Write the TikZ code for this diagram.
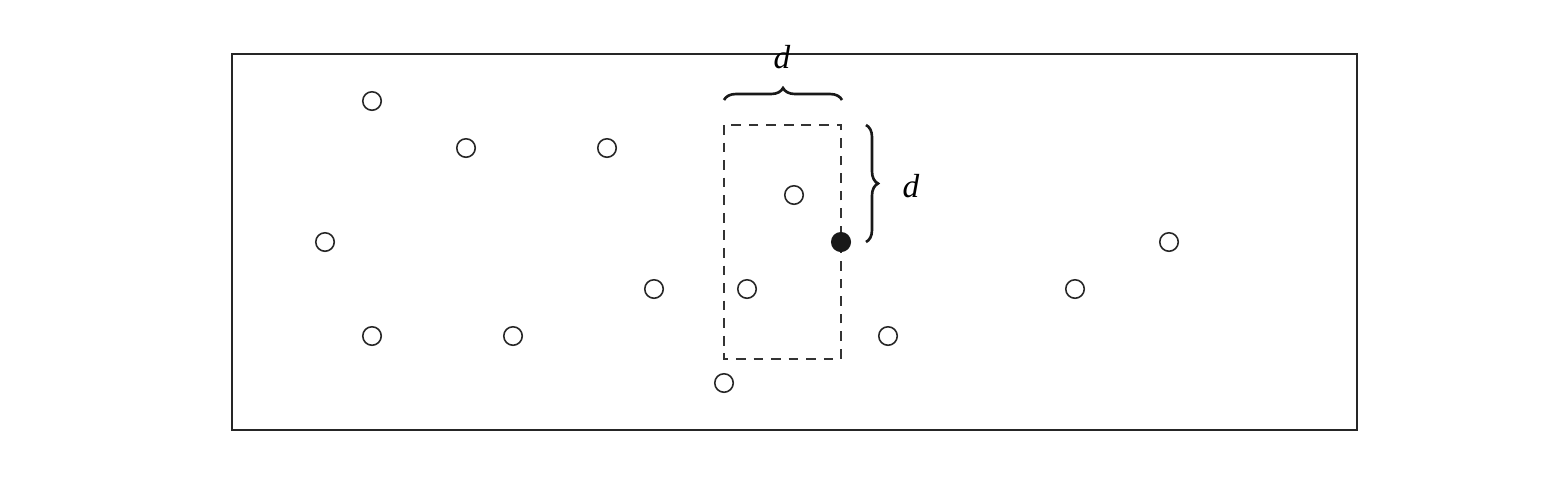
\documentclass[tikz,border=0pt]{standalone}
\usepackage{fontspec}
\setmainfont{Liberation Serif}
\usetikzlibrary{decorations.pathreplacing}
\begin{document}
\begin{tikzpicture}[x=0.02cm,y=-0.02cm,
  pt/.style={circle,draw=black!85,line width=0.9pt,fill=white,minimum size=0.37cm,inner sep=0pt},
  fpt/.style={circle,draw=black!90,line width=0.9pt,fill=black!90,minimum size=0.37cm,inner sep=0pt},
  frame/.style={draw=black!85,line width=0.75pt},
  dbox/.style={draw=black!80,line width=0.75pt,dash pattern=on 5.5pt off 4.5pt},
  bracepath/.style={decorate,decoration={brace,amplitude=0.24cm},line width=1.5pt,draw=black!90},
  lbl/.style={font=\fontsize{19}{22}\selectfont\itshape,inner sep=0pt}]
\useasboundingbox (0,0) rectangle (1568,481);
\draw[frame] (232,54) rectangle (1357,430);
\draw[dbox] (724,125) rectangle (841,359);
\node[pt] (p1) at (372,101) {};
\node[pt] (p2) at (466,148) {};
\node[pt] (p3) at (607,148) {};
\node[pt] (p4) at (325,242) {};
\node[pt] (p5) at (794,195) {};
\node[fpt] (q) at (841,242) {};
\node[pt] (p6) at (1169,242) {};
\node[pt] (p7) at (654,289) {};
\node[pt] (p8) at (747,289) {};
\node[pt] (p9) at (1075,289) {};
\node[pt] (p10) at (372,336) {};
\node[pt] (p11) at (513,336) {};
\node[pt] (p12) at (888,336) {};
\node[pt] (p13) at (724,383) {};
\coordinate (ta) at (724,100);
\coordinate (tb) at (842,100);
\coordinate (ra) at (866,125);
\coordinate (rb) at (866,242);
\draw[bracepath] (ta) -- (tb);
\draw[bracepath] (ra) -- (rb);
\node[lbl] (d1) at (782,57) {d};
\node[lbl] (d2) at (911,186) {d};
\end{tikzpicture}
\end{document}
